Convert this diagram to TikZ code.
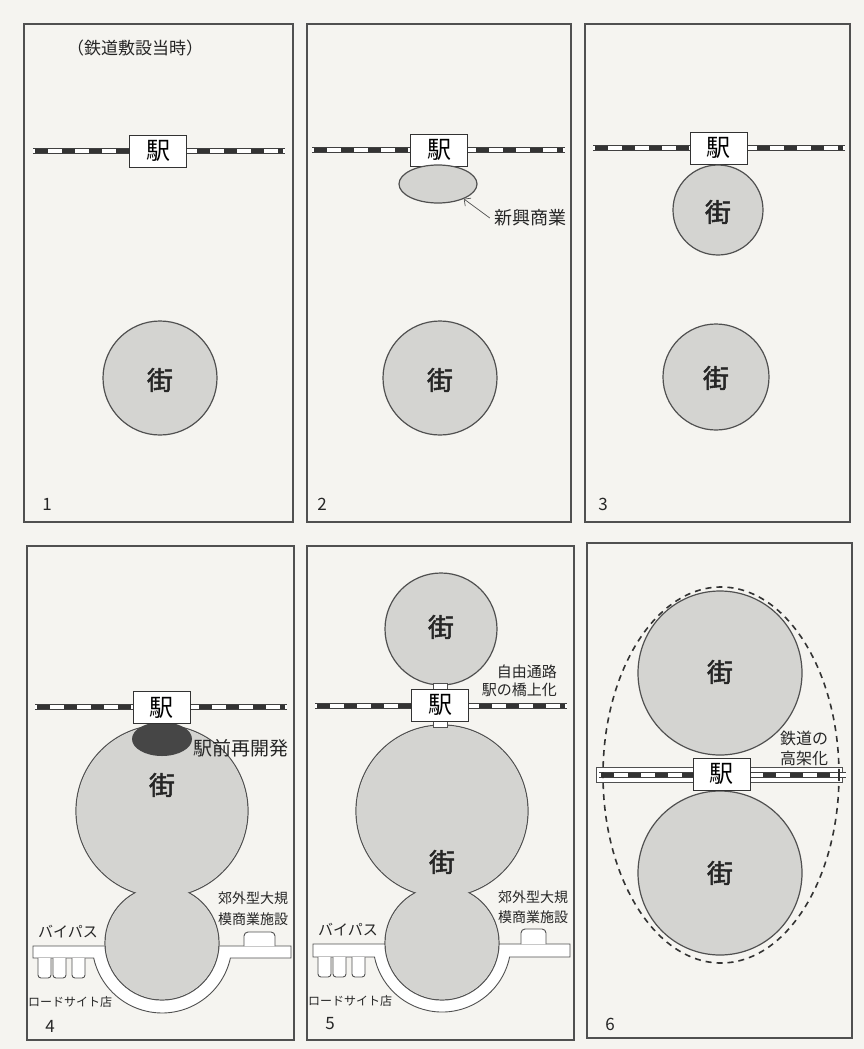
\documentclass[tikz,border=0pt]{standalone}
\usepackage{fontspec}
\newfontfamily\jp{Noto Sans CJK JP}
\newfontfamily\jpbold[FakeBold=2]{Noto Sans CJK JP}
\usetikzlibrary{arrows.meta,shapes.geometric}
\definecolor{paper}{RGB}{245,244,240}
\definecolor{towngray}{RGB}{212,212,209}
\definecolor{inkgray}{RGB}{80,80,80}
\definecolor{redevgray}{RGB}{70,70,70}

\begin{document}
\begin{tikzpicture}[
    x=1pt, y=-1pt,
    panel/.style={draw=inkgray, line width=1.1pt},
    town/.style={fill=towngray, draw=inkgray, line width=1.2pt},
    town cover/.style={fill=towngray},
    town label/.style={font=\jpbold\fontsize{26}{26}\selectfont, text=black!85},
    station/.style={rectangle, draw=black!80, fill=white, line width=0.9pt, minimum width=57pt, minimum height=32pt, inner sep=0pt, font=\jp\fontsize{24}{24}\selectfont},
    rail/.style={draw=black!75, line width=0.9pt, double=white, double distance=3.4pt},
    rail dash/.style={draw=black!80, line width=3.4pt, dash pattern=on 13pt off 14pt},
    road/.style={fill=white, draw=inkgray, line width=0.9pt},
    shop/.style={fill=white, draw=inkgray, line width=0.9pt, rounded corners=3pt},
    txt/.style={font=\jp\fontsize{#1}{#1}\selectfont, text=black!85, inner sep=1pt},
    town edge/.style={draw=black!80, line width=1.6pt, dash pattern=on 6pt off 5pt},
]

% paper and page size
\fill[paper] (0,0) rectangle (864,1049);
\useasboundingbox (0,0) rectangle (864,1049);

% Frames
\draw[panel] (24,24) rectangle (293,522);
\draw[panel] (307,24) rectangle (571,522);
\draw[panel] (585,24) rectangle (850,522);
\draw[panel] (27,546) rectangle (294,1040);
\draw[panel] (307,546) rectangle (574,1040);
\draw[panel] (587,543) rectangle (852,1038);

% ---- Panel 1
\node[txt=17] (era) at (135,48) {（鉄道敷設当時）};
\draw[rail] (33,151) -- (285,151);
\draw[rail dash] (35,151) -- (283,151);
\node[station] (st1) at (158,151) {駅};
\draw[town] (160,378) circle[radius=57];
\node[town label] (town1) at (160,380) {街};
\node[txt=17] (no1) at (47,504) {1};

% ---- Panel 2
\draw[rail] (312,150) -- (565,150);
\draw[rail dash] (314,150) -- (563,150);
\node[station] (st2) at (439,150) {駅};
\node[ellipse, fill=towngray, draw=inkgray, line width=1.2pt, minimum width=78pt, minimum height=38pt, inner sep=0pt] (newshop) at (438,184) {};
\node[txt=18, inner sep=4pt] (shoplabel) at (530,218) {新興商業};
\draw[-{Straight Barb[length=5pt]}, line width=0.7pt, inkgray] (shoplabel.west) -- (newshop.-30);
\draw[town] (440,378) circle[radius=57];
\node[town label] (town2) at (440,380) {街};
\node[txt=17] (no2) at (322,504) {2};

% ---- Panel 3
\draw[rail] (593,148) -- (845,148);
\draw[rail dash] (595,148) -- (843,148);
\node[station] (st3) at (718.5,148) {駅};
\draw[town] (718,210) circle[radius=45];
\node[town label] (town3a) at (718,212) {街};
\draw[town] (716,377) circle[radius=53];
\node[town label] (town3b) at (716,378) {街};
\node[txt=17] (no3) at (603,504) {3};

% ---- Panel 4
\draw[road] (33,946) -- (291,946) -- (291,958) -- (230.4,958)
    arc[start angle=12.4, end angle=167.6, radius=70] -- (33,958) -- cycle;
\foreach \sx in {38,53,72}
    \draw[shop] (\sx,958) -- (\sx,978) -- (\sx+13,978) -- (\sx+13,958);
\draw[shop, rounded corners=4pt] (244,946) -- (244,932) -- (275,932) -- (275,946);
\draw[town] (162,811) circle[radius=86] (162,943) circle[radius=57];
\fill[town cover] (162,811) circle[radius=85.4] (162,943) circle[radius=56.4];
\fill[redevgray] (162,739) ellipse[x radius=30, y radius=17];
\draw[rail] (35,707) -- (287,707);
\draw[rail dash] (37,707) -- (285,707);
\node[station] (st4) at (161.5,707.5) {駅};
\node[txt=19] (redev) at (241,748) {駅前再開発};
\node[town label] (town4) at (162,785) {街};
\node[txt=15] (bypass4) at (68,932) {バイパス};
\node[txt=12] (roadside4) at (70,1002) {ロードサイト店};
\node[font=\jp\fontsize{14}{21}\selectfont, text=black!85, align=center, inner sep=1pt] (mall4) at (253,909) {郊外型大規\\模商業施設};
\node[txt=17] (no4) at (50,1026) {4};

% ---- Panel 5
\draw[road] (313,944) -- (570,944) -- (570,957) -- (509.6,957)
    arc[start angle=11.7, end angle=168.3, radius=69] -- (313,957) -- cycle;
\foreach \sx in {318,333,352}
    \draw[shop] (\sx,957) -- (\sx,977) -- (\sx+13,977) -- (\sx+13,957);
\draw[shop, rounded corners=4pt] (521,944) -- (521,929) -- (546,929) -- (546,944);
\draw[town] (441,629) circle[radius=56];
\draw[town] (442,811) circle[radius=86] (442,943) circle[radius=57];
\fill[town cover] (442,811) circle[radius=85.4] (442,943) circle[radius=56.4];
\draw[rail] (315,706) -- (567,706);
\draw[rail dash] (317,706) -- (565,706);
\draw[road] (433,683) rectangle (447,690);
\draw[road] (433,720) rectangle (447,727);
\node[station] (st5) at (440,705) {駅};
\node[town label] (town5a) at (441,627) {街};
\node[town label] (town5b) at (442,862) {街};
\node[font=\jp\fontsize{15}{18}\selectfont, text=black!85, align=right, inner sep=1pt, anchor=east] (bridge) at (558,681) {自由通路\\駅の橋上化};
\node[txt=15] (bypass5) at (348,930) {バイパス};
\node[txt=12] (roadside5) at (350,1001) {ロードサイト店};
\node[font=\jp\fontsize{14}{20}\selectfont, text=black!85, align=center, inner sep=1pt] (mall5) at (533,907) {郊外型大規\\模商業施設};
\node[txt=17] (no5) at (330,1024) {5};

% ---- Panel 6
\draw[town] (720,673) circle[radius=82];
\draw[town] (720,873) circle[radius=82];
\draw[road] (596,767) rectangle (842,782);
\draw[rail] (599,775) -- (846,775);
\draw[rail dash] (601,775) -- (844,775);
\node[station] (st6) at (721.5,774) {駅};
\draw[town edge] (721,775) ellipse[x radius=118, y radius=188];
\node[town label] (town6a) at (720,672) {街};
\node[town label] (town6b) at (720,873) {街};
\node[font=\jp\fontsize{16}{20}\selectfont, text=black!85, align=left, inner sep=1pt, anchor=west] (elevated) at (779,748) {鉄道の\\高架化};
\node[txt=17] (no6) at (610,1024) {6};

\end{tikzpicture}
\end{document}
